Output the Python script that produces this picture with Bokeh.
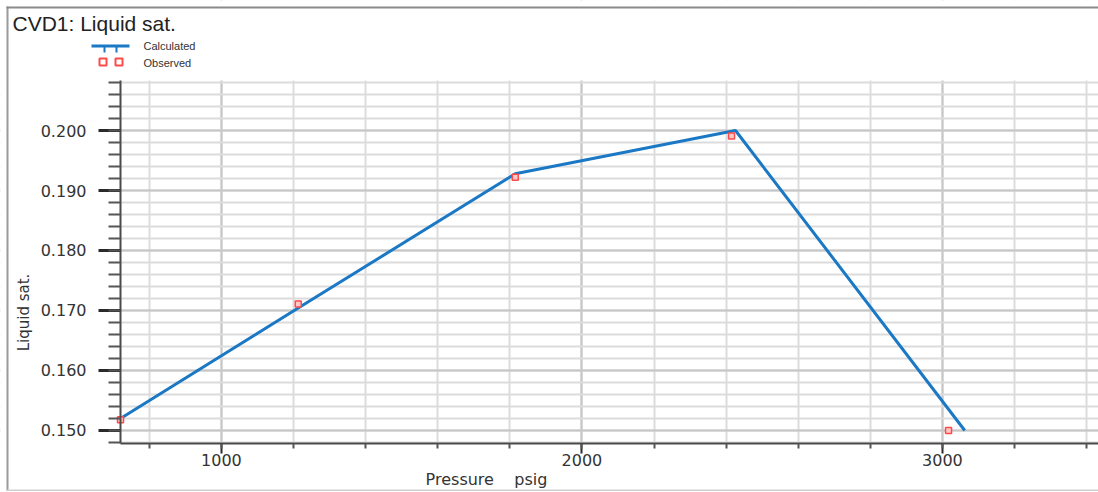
import math
from bokeh.plotting import figure
from bokeh.models import (Range1d, SingleIntervalTicker, PrintfTickFormatter, Label, BoxAnnotation)
from bokeh.embed import file_html
from bokeh.resources import INLINE

# ---- data ----
pressure_calc = [720, 1213, 1815, 2426, 3062]
liq_calc = [0.1520, 0.1704, 0.1928, 0.2000, 0.1500]
pressure_obs = [720, 1213, 1815, 2415, 3017]
liq_obs = [0.1518, 0.1711, 0.1922, 0.1991, 0.1500]

title_text = "CVD1: Liquid sat."
x_label = "Pressure \u00a0\u00a0 psig"
y_label = "Liquid sat."
legend_labels = ["Calculated", "Observed"]

# axis extents (data units) and full canvas extents
x_axis_bounds = (720, 3433)
y_axis_bounds = (0.147833, 0.208333)
x_range = (387.1, 3433)
y_range = (0.139833, 0.221667)

W, H = 1098, 491
LINE_BLUE = "#1a78c4"
OBS_RED = "#ff4a4a"

p = figure(width=W, height=H, output_backend="svg", toolbar_location=None,
           x_range=Range1d(*x_range), y_range=Range1d(*y_range),
           min_border_left=0, min_border_right=0, min_border_top=0, min_border_bottom=0)
p.outline_line_color = None
p.background_fill_color = "white"
p.border_fill_color = "white"

# axes / ticks
xt = SingleIntervalTicker(interval=1000, num_minor_ticks=5)
yt = SingleIntervalTicker(interval=0.01, num_minor_ticks=5)
p.xaxis.ticker = xt
p.yaxis.ticker = yt
p.xgrid.ticker = xt
p.ygrid.ticker = yt
p.yaxis.formatter = PrintfTickFormatter(format="%.3f")
p.xaxis.fixed_location = y_axis_bounds[0]
p.yaxis.fixed_location = x_axis_bounds[0]
p.xaxis.bounds = x_axis_bounds
p.yaxis.bounds = y_axis_bounds

for ax in (p.xaxis, p.yaxis):
    ax.axis_line_color = "#4a4a4a"
    ax.axis_line_width = 2
    ax.major_tick_line_color = "#2a2a2a"
    ax.minor_tick_line_color = "#555555"
    ax.major_tick_in = 0
    ax.minor_tick_in = 0
    ax.major_label_text_font = "DejaVu Sans"
    ax.major_label_text_font_size = "16px"
    ax.major_label_text_color = "#333333"

p.yaxis.major_tick_out = 22
p.yaxis.minor_tick_out = 12
p.yaxis.major_tick_line_width = 3
p.yaxis.minor_tick_line_width = 2
p.yaxis.major_label_standoff = 12
p.xaxis.major_tick_out = 10
p.xaxis.minor_tick_out = 5
p.xaxis.major_tick_line_width = 2
p.xaxis.minor_tick_line_width = 2
p.xaxis.major_label_standoff = 0

for g in (p.xgrid, p.ygrid):
    g.grid_line_color = "#c6c6c6"
    g.grid_line_width = 2
    g.minor_grid_line_color = "#dcdcdc"
    g.minor_grid_line_width = 2

# white covers so that the grid only fills the plotting area
for (l, r, b, t) in [(x_range[0], x_axis_bounds[0], y_range[0], y_range[1]),
                     (x_range[0], x_range[1], y_axis_bounds[1], y_range[1]),
                     (x_range[0], x_range[1], y_range[0], y_axis_bounds[0])]:
    p.add_layout(BoxAnnotation(left=l, right=r, bottom=b, top=t, fill_color="white",
                               fill_alpha=1, line_color=None, level="underlay"))

# data
p.line(pressure_calc, liq_calc, line_color=LINE_BLUE, line_width=3)
p.scatter(pressure_obs, liq_obs, marker="square", size=6, line_color=OBS_RED,
          line_width=1.5, fill_color="#ffc8c8")


def sbox(left, right, bottom, top, **kw):
    p.add_layout(BoxAnnotation(left=left, right=right, bottom=bottom, top=top,
                               left_units="screen", right_units="screen",
                               bottom_units="screen", top_units="screen", **kw))


# outer frame lines
sbox(6, 8, 0, 485, fill_color="#9a9a9a", fill_alpha=1, line_color=None)
sbox(6, W, 483, 485, fill_color="#8a8a8a", fill_alpha=1, line_color=None)
sbox(6, W, 0, 2, fill_color="#cfcfcf", fill_alpha=1, line_color=None)

# title and axis labels (screen units from canvas bottom-left)
p.add_layout(Label(x=12, y=H - 23, x_units="screen", y_units="screen", text=title_text,
                   text_font="Liberation Sans", text_font_size="21px", text_color="#222222",
                   text_baseline="middle"))
p.add_layout(Label(x=486, y=H - 479, x_units="screen", y_units="screen", text=x_label,
                   text_font="DejaVu Sans", text_font_size="16px", text_color="#333333",
                   text_align="center", text_baseline="middle"))
p.add_layout(Label(x=23, y=H - 312, x_units="screen", y_units="screen", text=y_label,
                   angle=math.pi / 2, text_font="DejaVu Sans", text_font_size="15px",
                   text_color="#333333", text_align="center", text_baseline="middle"))

# legend (manual)
sbox(91, 129, H - 47, H - 44, fill_color=LINE_BLUE, fill_alpha=1, line_color=None)
for lx in (103, 115):
    sbox(lx, lx + 2, H - 52, H - 45, fill_color=LINE_BLUE, fill_alpha=1, line_color=None)
for lx in (99, 115):
    sbox(lx, lx + 7, H - 65, H - 58, fill_color="white", fill_alpha=1, line_color=OBS_RED,
         line_width=2, line_alpha=1)
for lab, py in zip(legend_labels, (45, 62)):
    p.add_layout(Label(x=143, y=H - py, x_units="screen", y_units="screen", text=lab,
                       text_font="Liberation Sans", text_font_size="11px", text_color="#333333",
                       text_baseline="middle"))

open("out.html", "w").write(file_html(p, INLINE))
